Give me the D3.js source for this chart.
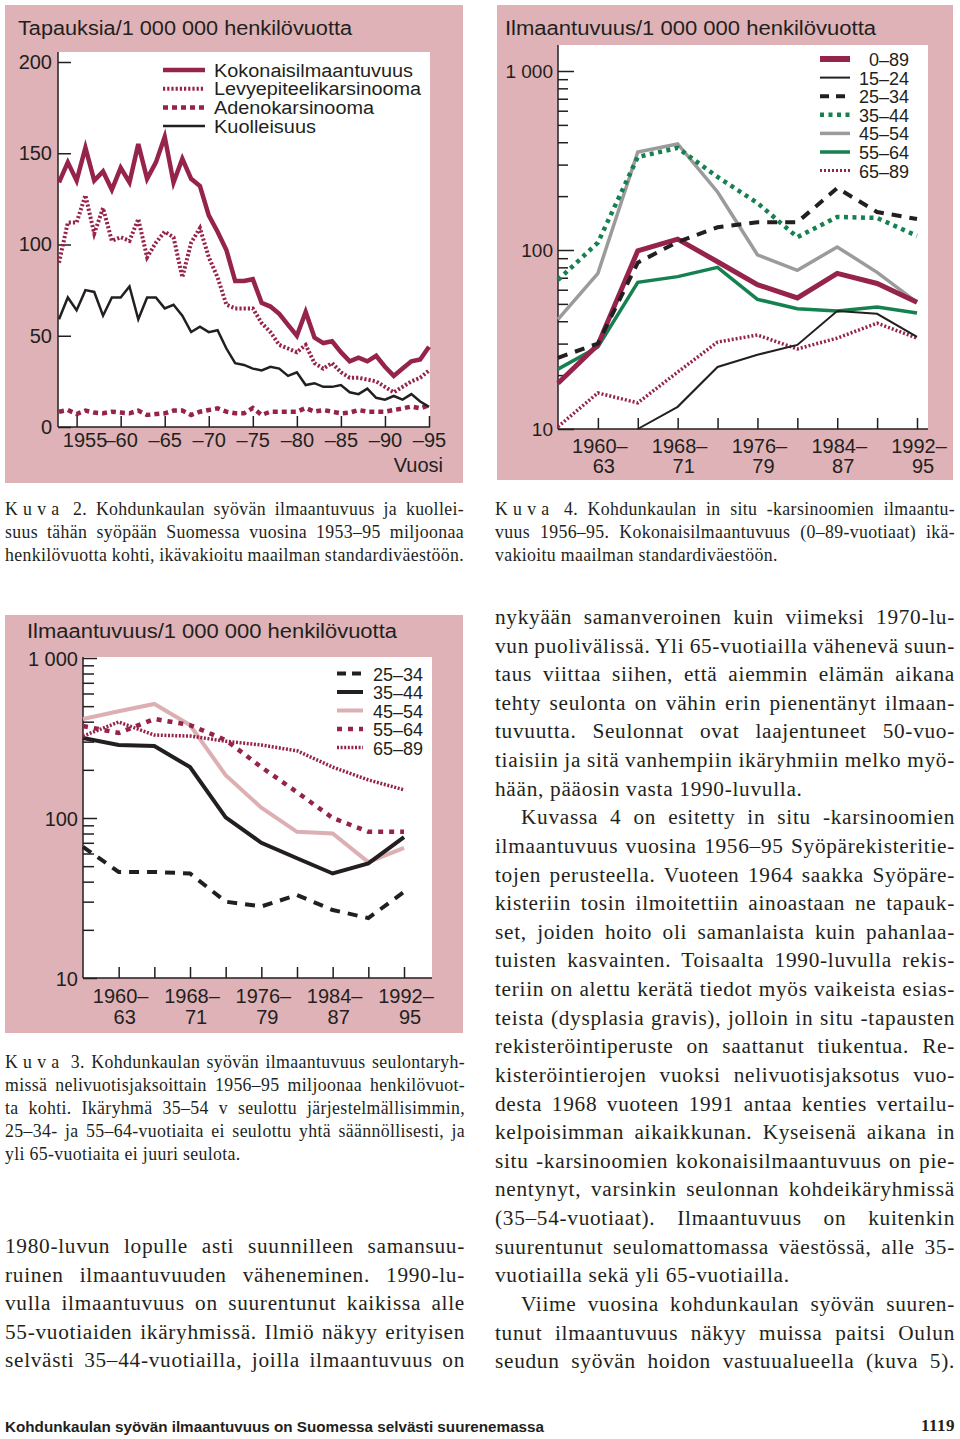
<!DOCTYPE html>
<html><head><meta charset="utf-8">
<script src="https://cdn.jsdelivr.net/npm/d3@7"></script>
<style>
body{margin:0;background:#fff}
text{fill:#231f20}
.sans{font-family:"Liberation Sans",Arial,Helvetica,sans-serif}
.serif{font-family:"Liberation Serif","Times New Roman",serif}
</style>
</head><body>
<svg id="page" width="960" height="1439"></svg>
<script>
// ================= DATA =================
// Chart "Kuva 2": cases per 1 000 000 person-years, 1953–95
const years = d3.range(1953, 1996);
const totalIncidence = [134,145,135,153,135,140,130,142,134,155,136,145,159,134,147,136,132,116,107,97,80,80,81,68,66,62,56,50,63,49,46,47,41,36,38,36,39,33,28,32,36,37,44];
const squamousIncidence = [90,112,112,127,106,120,102,104,102,114,93,101,107,104,82,101,109,93,82,67,65,65,65,57,52,45,43,41,45,35,32,35,30,27,27,26,25,22,19,22,25,27,31];
const adenoIncidence = [8.4,9.3,7.1,9,7.9,7.5,8.4,7.9,7.5,9,6.6,7.1,7.5,9,9,6.6,8.4,9.3,10.2,8.4,7.5,7.5,10.4,6.6,8.4,8.4,8.4,8.4,10.4,8.4,9.3,8.4,7.5,7.9,9.3,8.4,8.4,8.4,9.3,10.2,11.2,10.2,12];
const mortality = [59,71,64,75,74,61,71,71,77,59,71,71,65,67,61,52,55,52,53,43,35,34,32,31,33,32,28,30,23,24,22,22,23,19,18,21,16,15,17,15,18,14,11];
const yearTicks = [1955,1960,1965,1970,1975,1980,1985,1990,1995];
const yearTickLabels = ["1955","–60","–65","–70","–75","–80","–85","–90","–95"];
const linearTicks = [0,50,100,150,200];
const legend1 = ["Kokonaisilmaantuvuus","Levyepiteelikarsinooma","Adenokarsinooma","Kuolleisuus"];

// Four-year periods 1956–95
const periods = ["1956–59","1960–63","1964–67","1968–71","1972–75","1976–79","1980–83","1984–87","1988–91","1992–95"];
const periodLabelTop = ["1960–","1968–","1976–","1984–","1992–"];
const periodLabelBottom = ["63","71","79","87","95"];
const logMajor = [10,100,1000];
const logMajorLabels = ["10","100","1 000"];

// Chart "Kuva 4": in situ carcinoma incidence by age group
const insituAge = ["0–89","15–24","25–34","35–44","45–54","55–64","65–89"];
const insitu_0_89  = [18,29.5,99,115,86,64,54,74,65,51];
const insitu_15_24 = [null,null,10,13.3,22.2,26,29.5,45.6,44,32.7];
const insitu_25_34 = [25,30,85,111,134,143,143,222,163,149];
const insitu_35_44 = [68,110,331,372,256,183,118,153,151,120];
const insitu_45_54 = [41,74,353,391,211,94,77,104,75,51];
const insitu_55_64 = [21.6,28.7,66,71,80,53,47,45.6,48,44.5];
const insitu_65_89 = [10.3,15.9,14,20.8,30.6,33.5,28,32.2,39,32.2];

// Chart "Kuva 3": cancer incidence in screening age groups
const screenAge = ["25–34","35–44","45–54","55–64","65–89"];
const screen_25_34 = [66,46,46,45,30,28,33,26.6,23.7,34.5];
const screen_35_44 = [316,286,282,208,101,70,56,45,52,76];
const screen_45_54 = [416,465,516,381,185,116,82,80,53,65];
const screen_55_64 = [376,340,416,381,307,208,145,100,82,82];
const screen_65_89 = [325,398,330,325,302,286,263,208,173,150];

// ================= STYLE =================
const INK = "#231f20", PANEL = "#deb2b6", CRIMSON = "#96234b", GREEN = "#168150", GRAY = "#9b9b9b", LPINK = "#dcafb3";
const svg = d3.select("#page");

function styleAxis(g, size){
  g.select(".domain").remove();
  g.selectAll(".tick line").attr("stroke", INK).attr("stroke-width", 1.5);
  g.selectAll(".tick text").attr("class","sans").attr("font-size", size).attr("fill", INK).attr("font-family", null);
  g.attr("font-family", null).attr("font-size", null);
}

// ================= CHART 1 =================
(function(){
  const g = svg.append("g");
  g.append("rect").attr("x",5).attr("y",5).attr("width",458).attr("height",478).attr("fill",PANEL);
  g.append("rect").attr("x",58).attr("y",52).attr("width",372).attr("height",375).attr("fill","#fff");
  const x = d3.scaleLinear().domain([1953,1995]).range([59,429]);
  const y = d3.scaleLinear().domain([0,200]).range([427,62]);

  g.append("text").attr("class","sans").attr("x",18).attr("y",35).attr("font-size",20)
    .attr("textLength",334).attr("lengthAdjust","spacingAndGlyphs").text("Tapauksia/1 000 000 henkilövuotta");

  const ya = g.append("g").attr("transform","translate(58,0)")
    .call(d3.axisLeft(y).tickValues(linearTicks).tickSize(-13).tickPadding(6).tickFormat(d3.format("d")));
  styleAxis(ya, 20);
  const xa = g.append("g").attr("transform","translate(0,427)")
    .call(d3.axisBottom(x).tickValues(yearTicks).tickSize(-11).tickPadding(6).tickFormat((d,i)=>yearTickLabels[i]));
  styleAxis(xa, 20);
  xa.selectAll(".tick text").filter((d,i)=>i===0).attr("dx",8);
  g.append("line").attr("x1",58).attr("x2",58).attr("y1",52).attr("y2",427).attr("stroke",INK).attr("stroke-width",1.5);
  g.append("line").attr("x1",58).attr("x2",430).attr("y1",427).attr("y2",427).attr("stroke",INK).attr("stroke-width",1.5);
  g.append("text").attr("class","sans").attr("x",443).attr("y",472).attr("text-anchor","end").attr("font-size",20).text("Vuosi");

  const series = [
    {v: totalIncidence, c: CRIMSON, w: 4.5, d: null},
    {v: squamousIncidence, c: CRIMSON, w: 4, d: "2.2,2"},
    {v: adenoIncidence, c: CRIMSON, w: 4.5, d: "5,4"},
    {v: mortality, c: INK, w: 2.5, d: null}
  ];
  const line = d3.line().x((d,i)=>x(years[i])).y(d=>y(d));
  series.forEach(s=>{
    g.append("path").attr("d",line(s.v)).attr("fill","none").attr("stroke",s.c).attr("stroke-width",s.w)
      .attr("stroke-dasharray",s.d).attr("stroke-linejoin","miter");
  });
  const widths = [199,207,160,102];
  legend1.forEach((name,i)=>{
    const yy = 70 + i*18.7;
    g.append("line").attr("x1",163).attr("x2",205).attr("y1",yy).attr("y2",yy)
      .attr("stroke",series[i].c).attr("stroke-width",series[i].w).attr("stroke-dasharray",series[i].d);
    g.append("text").attr("class","sans").attr("x",214).attr("y",yy+6.5).attr("font-size",18)
      .attr("textLength",widths[i]).attr("lengthAdjust","spacingAndGlyphs").text(name);
  });
})();

// ================= LOG CHARTS =================
function logChart(cfg){
  const g = svg.append("g");
  g.append("rect").attr("x",cfg.panel[0]).attr("y",cfg.panel[1]).attr("width",cfg.panel[2]-cfg.panel[0]).attr("height",cfg.panel[3]-cfg.panel[1]).attr("fill",PANEL);
  const [px0,py0,px1,py1] = cfg.plot;
  g.append("rect").attr("x",px0).attr("y",py0).attr("width",px1-px0).attr("height",py1-py0).attr("fill","#fff");
  const x = d3.scaleLinear().domain([0,periods.length-1]).range([px0, cfg.xLast]);
  const y = d3.scaleLog().domain([10,1000]).range([py1, cfg.y1000]);

  g.append("text").attr("class","sans").attr("x",cfg.titleX).attr("y",cfg.titleY).attr("font-size",20)
    .attr("textLength",cfg.titleLen).attr("lengthAdjust","spacingAndGlyphs").text("Ilmaantuvuus/1 000 000 henkilövuotta");

  const ticks = [];
  [10,100].forEach(dec=>{ for(let k=1;k<10;k++) ticks.push(dec*k); });
  ticks.push(1000);
  const ya = g.append("g").attr("transform",`translate(${px0},0)`)
    .call(d3.axisLeft(y).tickValues(ticks).tickSize(-cfg.minorLen).tickPadding(5)
      .tickFormat(d=>{const i=logMajor.indexOf(d); return i>=0?logMajorLabels[i]:"";}));
  styleAxis(ya, cfg.yFont);
  ya.selectAll(".tick").filter(d=>logMajor.includes(d)).select("line").attr("x2",cfg.majorLen);
  ya.selectAll(".tick text").attr("dy","0.36em");

  const tickIdx = d3.range(1,periods.length);
  const xa = g.append("g").attr("transform",`translate(0,${py1})`)
    .call(d3.axisBottom(x).tickValues(tickIdx).tickSize(-11).tickFormat(""));
  styleAxis(xa, 20);
  g.append("line").attr("x1",px0).attr("x2",px0).attr("y1",py0).attr("y2",py1).attr("stroke",INK).attr("stroke-width",1.5);
  g.append("line").attr("x1",px0).attr("x2",px1).attr("y1",py1).attr("y2",py1).attr("stroke",INK).attr("stroke-width",1.5);

  periodLabelTop.forEach((t,i)=>{
    const xi = x(1+2*i);
    g.append("text").attr("class","sans").attr("x",xi+2).attr("y",py1+cfg.lab1).attr("text-anchor","middle").attr("font-size",20).text(t);
    g.append("text").attr("class","sans").attr("x",xi+6).attr("y",py1+cfg.lab2).attr("text-anchor","middle").attr("font-size",20).text(periodLabelBottom[i]);
  });

  const line = d3.line().defined(d=>d!=null).x((d,i)=>x(i)).y(d=>y(d));
  cfg.draw.forEach(s=>{
    g.append("path").attr("d",line(s.v)).attr("fill","none").attr("stroke",s.c).attr("stroke-width",s.w)
      .attr("stroke-dasharray",s.d);
  });
  cfg.legend.forEach((s,i)=>{
    const yy = cfg.legY + i*cfg.legStep;
    g.append("line").attr("x1",cfg.legX0).attr("x2",cfg.legX1).attr("y1",yy).attr("y2",yy)
      .attr("stroke",s.c).attr("stroke-width",s.lw||s.w).attr("stroke-dasharray",s.ld||s.d);
    g.append("text").attr("class","sans").attr("x",cfg.legTx).attr("y",yy+7).attr("font-size",18)
      .attr("text-anchor",cfg.legAnchor).text(s.name);
  });
}

// Chart Kuva 4 (top right)
(function(){
  const S = {
    a: {name:insituAge[0], v:insitu_0_89, c:CRIMSON, w:5, d:null, lw:6},
    b: {name:insituAge[1], v:insitu_15_24, c:INK, w:2, d:null},
    c: {name:insituAge[2], v:insitu_25_34, c:INK, w:4, d:"10,8", ld:"9,7"},
    d: {name:insituAge[3], v:insitu_35_44, c:GREEN, w:4.5, d:"4,4.5"},
    e: {name:insituAge[4], v:insitu_45_54, c:GRAY, w:3.5, d:null},
    f: {name:insituAge[5], v:insitu_55_64, c:GREEN, w:3.5, d:null},
    g: {name:insituAge[6], v:insitu_65_89, c:CRIMSON, w:3.5, d:"2,2", lw:3}
  };
  logChart({
    panel:[497,5,953,480], plot:[558,45,928,429], xLast:917, y1000:71,
    titleX:505, titleY:35, titleLen:371, yFont:19, minorLen:10, majorLen:16,
    lab1:24, lab2:44,
    draw:[S.e,S.f,S.d,S.a,S.g,S.b,S.c],
    legend:[S.a,S.b,S.c,S.d,S.e,S.f,S.g],
    legY:59, legStep:18.6, legX0:820, legX1:850, legTx:909, legAnchor:"end"
  });
})();

// Chart Kuva 3 (bottom left)
(function(){
  const S = {
    a: {name:screenAge[0], v:screen_25_34, c:INK, w:4, d:"10,8", ld:"9,6"},
    b: {name:screenAge[1], v:screen_35_44, c:INK, w:4, d:null},
    c: {name:screenAge[2], v:screen_45_54, c:LPINK, w:4, d:null},
    d: {name:screenAge[3], v:screen_55_64, c:CRIMSON, w:4.5, d:"5,6"},
    e: {name:screenAge[4], v:screen_65_89, c:CRIMSON, w:3.5, d:"2,1.6"}
  };
  logChart({
    panel:[5,615,463,1033], plot:[83,657,432,978], xLast:404, y1000:658,
    titleX:27, titleY:638, titleLen:370, yFont:20, minorLen:11, majorLen:14,
    lab1:25, lab2:46,
    draw:[S.c,S.b,S.e,S.d,S.a],
    legend:[S.a,S.b,S.c,S.d,S.e],
    legY:673.5, legStep:18.5, legX0:337, legX1:363, legTx:373, legAnchor:"start"
  });
})();

// ================= TEXT =================
function textBlock(lines, x, y0, step, width, size, ls){
  const g = svg.append("g").attr("class","serif").attr("font-size",size);
  lines.forEach((ln,i)=>{
    const t = g.append("text").attr("x", x + (ln.indent||0)).attr("y", y0 + i*step).attr("letter-spacing", ls);
    if (ln.kuva){
      t.append("tspan").attr("letter-spacing", 5.2).text("Kuva");
      t.append("tspan").text(" " + ln.t);
    } else t.text(ln.t);
    if (!ln.last){
      const w = t.node().getComputedTextLength();
      const n = ((ln.kuva?" ":"") + ln.t).split(" ").length - 1;
      const target = width - (ln.indent||0);
      if (n>0) t.attr("word-spacing", Math.max(-2.5,(target - w)/n));
    }
  });
}

textBlock([
  {t:"2. Kohdunkaulan syövän ilmaantuvuus ja kuollei-", kuva:true},
  {t:"suus tähän syöpään Suomessa vuosina 1953–95 miljoonaa"},
  {t:"henkilövuotta kohti, ikävakioitu maailman standardiväestöön."}
], 5, 515, 23, 459, 17.8, 0.35);

textBlock([
  {t:"4. Kohdunkaulan in situ -karsinoomien ilmaantu-", kuva:true},
  {t:"vuus 1956–95. Kokonaisilmaantuvuus (0–89-vuotiaat) ikä-"},
  {t:"vakioitu maailman standardiväestöön.", last:true}
], 495, 515, 23, 460, 17.8, 0.35);

textBlock([
  {t:"3. Kohdunkaulan syövän ilmaantuvuus seulontaryh-", kuva:true},
  {t:"missä nelivuotisjaksoittain 1956–95 miljoonaa henkilövuot-"},
  {t:"ta kohti. Ikäryhmä 35–54 v seulottu järjestelmällisimmin,"},
  {t:"25–34- ja 55–64-vuotiaita ei seulottu yhtä säännöllisesti, ja"},
  {t:"yli 65-vuotiaita ei juuri seulota.", last:true}
], 5, 1068, 23, 460, 17.8, 0.35);

textBlock([
  {t:"1980-luvun lopulle asti suunnilleen samansuu-"},
  {t:"ruinen ilmaantuvuuden väheneminen. 1990-lu-"},
  {t:"vulla ilmaantuvuus on suurentunut kaikissa alle"},
  {t:"55-vuotiaiden ikäryhmissä. Ilmiö näkyy erityisen"},
  {t:"selvästi 35–44-vuotiailla, joilla ilmaantuvuus on"}
], 5, 1253, 28.62, 460, 21.3, 0.7);

textBlock([
  {t:"nykyään samanveroinen kuin viimeksi 1970-lu-"},
  {t:"vun puolivälissä. Yli 65-vuotiailla vähenevä suun-"},
  {t:"taus viittaa siihen, että aiemmin elämän aikana"},
  {t:"tehty seulonta on vähin erin pienentänyt ilmaan-"},
  {t:"tuvuutta. Seulonnat ovat laajentuneet 50-vuo-"},
  {t:"tiaisiin ja sitä vanhempiin ikäryhmiin melko myö-"},
  {t:"hään, pääosin vasta 1990-luvulla.", last:true},
  {t:"Kuvassa 4 on esitetty in situ -karsinoomien", indent:26},
  {t:"ilmaantuvuus vuosina 1956–95 Syöpärekisteritie-"},
  {t:"tojen perusteella. Vuoteen 1964 saakka Syöpäre-"},
  {t:"kisteriin tosin ilmoitettiin ainoastaan ne tapauk-"},
  {t:"set, joiden hoito oli samanlaista kuin pahanlaa-"},
  {t:"tuisten kasvainten. Toisaalta 1990-luvulla rekis-"},
  {t:"teriin on alettu kerätä tiedot myös vaikeista esias-"},
  {t:"teista (dysplasia gravis), jolloin in situ -tapausten"},
  {t:"rekisteröintiperuste on saattanut tiukentua. Re-"},
  {t:"kisteröintierojen vuoksi nelivuotisjaksotus vuo-"},
  {t:"desta 1968 vuoteen 1991 antaa kenties vertailu-"},
  {t:"kelpoisimman aikaikkunan. Kyseisenä aikana in"},
  {t:"situ -karsinoomien kokonaisilmaantuvuus on pie-"},
  {t:"nentynyt, varsinkin seulonnan kohdeikäryhmissä"},
  {t:"(35–54-vuotiaat). Ilmaantuvuus on kuitenkin"},
  {t:"suurentunut seulomattomassa väestössä, alle 35-"},
  {t:"vuotiailla sekä yli 65-vuotiailla.", last:true},
  {t:"Viime vuosina kohdunkaulan syövän suuren-", indent:26},
  {t:"tunut ilmaantuvuus näkyy muissa paitsi Oulun"},
  {t:"seudun syövän hoidon vastuualueella (kuva 5)."}
], 495, 624, 28.62, 460, 21.3, 0.7);

svg.append("text").attr("class","sans").attr("x",5).attr("y",1432).attr("font-size",15).attr("font-weight","bold")
  .attr("textLength",539).attr("lengthAdjust","spacingAndGlyphs").text("Kohdunkaulan syövän ilmaantuvuus on Suomessa selvästi suurenemassa");
svg.append("text").attr("class","serif").attr("x",955).attr("y",1431).attr("font-size",17).attr("font-weight","bold")
  .attr("text-anchor","end").attr("letter-spacing",0.5).text("1119");
</script>
</body></html>
